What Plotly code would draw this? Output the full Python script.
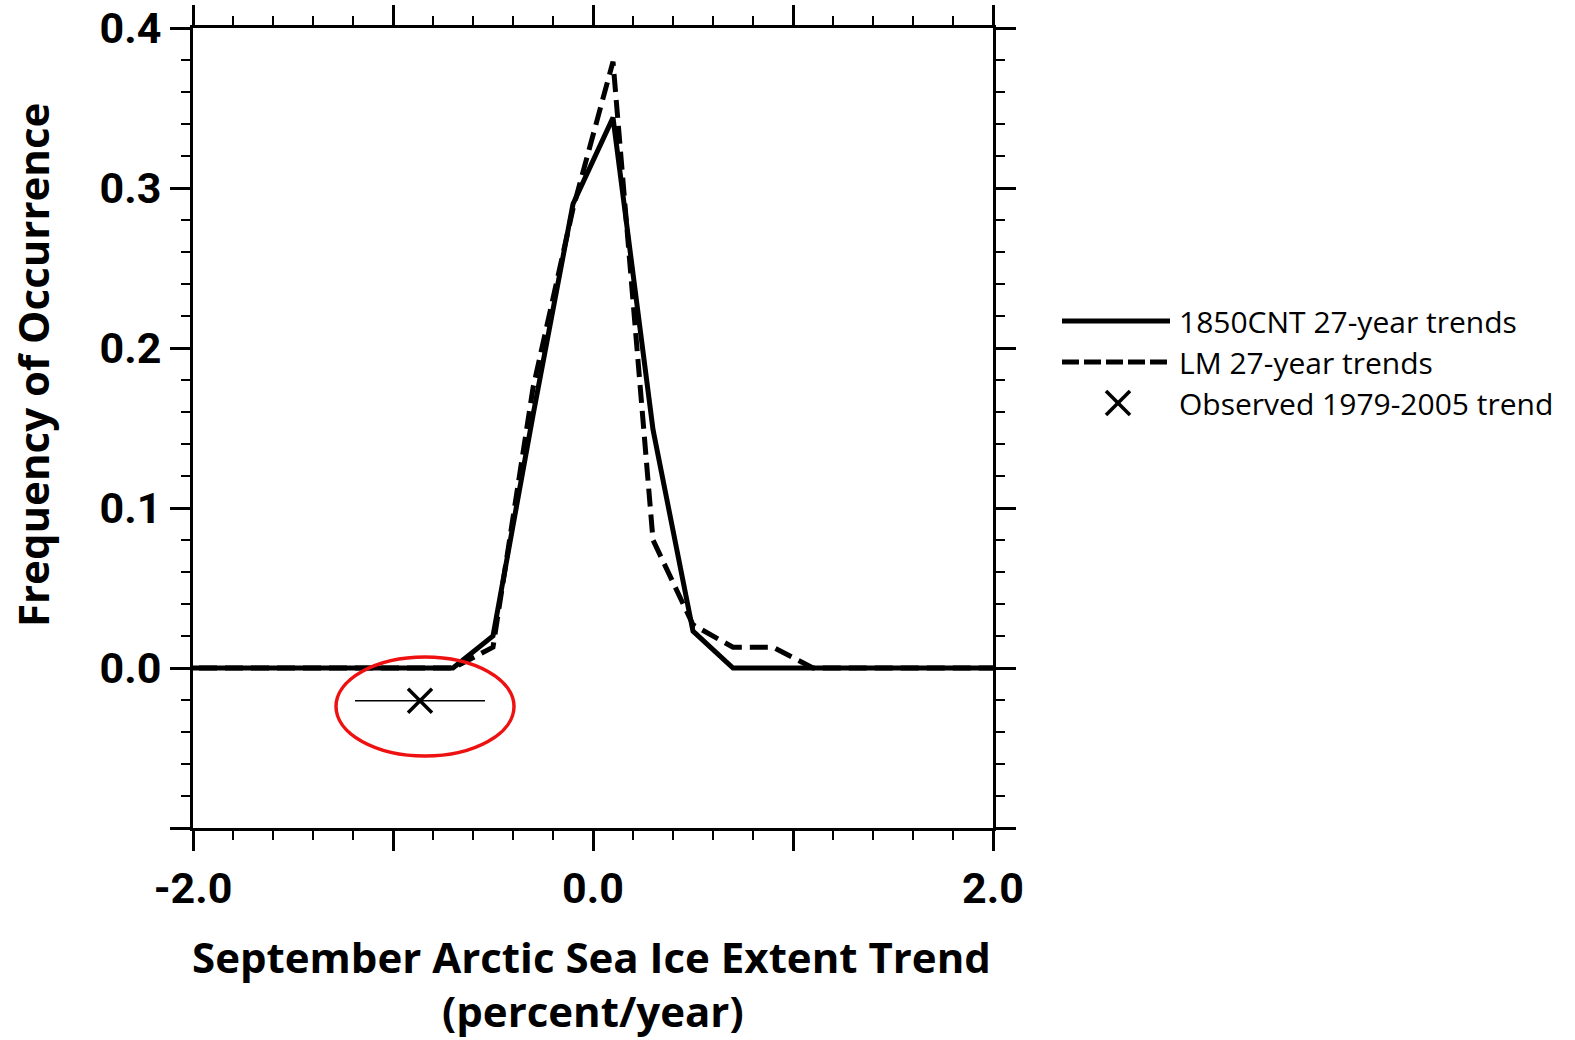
import plotly.graph_objects as go

# ---- data ----
trend_bins = [-2.1, -1.9, -1.7, -1.5, -1.3, -1.1, -0.9, -0.7, -0.5, -0.3, -0.1,
              0.1, 0.3, 0.5, 0.7, 0.9, 1.1, 1.3, 1.5, 1.7, 1.9, 2.1]
cnt_freq = [0, 0, 0, 0, 0, 0, 0, 0, 0.020, 0.158, 0.290,
            0.344, 0.149, 0.023, 0, 0, 0, 0, 0, 0, 0, 0]
lm_freq = [0, 0, 0, 0, 0, 0, 0, 0, 0.013, 0.175, 0.287,
           0.379, 0.080, 0.027, 0.013, 0.013, 0, 0, 0, 0, 0, 0]
obs_trend = [-0.865]
obs_y = [-0.0205]
obs_err = [0.325]

x_tickvals = [-2, -1, 0, 1, 2]
x_ticktext = ["-2.0", "", "0.0", "", "2.0"]
y_tickvals = [-0.1, 0.0, 0.1, 0.2, 0.3, 0.4]
y_ticktext = ["", "0.0", "0.1", "0.2", "0.3", "0.4"]

legend_names = ["1850CNT 27-year trends", "LM 27-year trends", "Observed 1979-2005 trend"]

FONT = "Open Sans"
TICK_FONT = "Roboto"

fig = go.Figure()
fig.add_trace(go.Scatter(x=trend_bins, y=lm_freq, mode="lines",
                         line=dict(color="black", width=5, dash="18px,8px"),
                         name=legend_names[1], showlegend=False))
fig.add_trace(go.Scatter(x=trend_bins, y=cnt_freq, mode="lines",
                         line=dict(color="black", width=5),
                         name=legend_names[0], showlegend=False))
fig.add_trace(go.Scatter(x=obs_trend, y=obs_y, mode="markers",
                         marker=dict(symbol="x-thin", size=24, color="black",
                                     line=dict(color="black", width=3.5)),
                         error_x=dict(type="data", array=obs_err, color="black",
                                      thickness=1.5, width=0),
                         name=legend_names[2], showlegend=False))

# red highlight ellipse around the observed trend
fig.add_shape(type="circle", xref="x", yref="y", x0=-1.285, x1=-0.395,
              y0=-0.055, y1=0.0069, line=dict(color="#ee1111", width=3.5))

# ---- manual legend (paper coordinates) ----
def px2paper_x(px):
    return (px - 193) / 800.0

def py2paper_y(py):
    return (828 - py) / 800.0

rows = [321, 362, 403]
fig.add_shape(type="line", xref="paper", yref="paper",
              x0=px2paper_x(1062), x1=px2paper_x(1170),
              y0=py2paper_y(rows[0]), y1=py2paper_y(rows[0]),
              line=dict(color="black", width=5))
fig.add_shape(type="line", xref="paper", yref="paper",
              x0=px2paper_x(1062), x1=px2paper_x(1170),
              y0=py2paper_y(rows[1]), y1=py2paper_y(rows[1]),
              line=dict(color="black", width=5, dash="17px,5px"))
s = 12
fig.add_shape(type="line", xref="paper", yref="paper",
              x0=px2paper_x(1118 - s), x1=px2paper_x(1118 + s),
              y0=py2paper_y(rows[2] - s), y1=py2paper_y(rows[2] + s),
              line=dict(color="black", width=3.5))
fig.add_shape(type="line", xref="paper", yref="paper",
              x0=px2paper_x(1118 - s), x1=px2paper_x(1118 + s),
              y0=py2paper_y(rows[2] + s), y1=py2paper_y(rows[2] - s),
              line=dict(color="black", width=3.5))
for name, r in zip(legend_names, rows):
    fig.add_annotation(text=name, xref="paper", yref="paper",
                       x=px2paper_x(1177), y=py2paper_y(r),
                       xanchor="left", yanchor="middle", showarrow=False,
                       font=dict(family=FONT, size=30, color="black"))

# ---- axis titles ----
TITLE_SIZE = 42
fig.add_annotation(text="<b>September Arctic Sea Ice Extent Trend</b>",
                   xref="paper", yref="paper", x=px2paper_x(591), y=py2paper_y(957),
                   xanchor="center", yanchor="middle", showarrow=False,
                   font=dict(family=FONT, size=TITLE_SIZE, color="black"))
fig.add_annotation(text="<b>(percent/year)</b>",
                   xref="paper", yref="paper", x=px2paper_x(593), y=py2paper_y(1010),
                   xanchor="center", yanchor="middle", showarrow=False,
                   font=dict(family=FONT, size=TITLE_SIZE, color="black"))
fig.add_annotation(text="<b>Frequency of Occurrence</b>",
                   xref="paper", yref="paper", x=px2paper_x(32), y=py2paper_y(365),
                   xanchor="center", yanchor="middle", showarrow=False, textangle=-90,
                   font=dict(family=FONT, size=TITLE_SIZE, color="black"))

axis_common = dict(
    showline=True, linecolor="black", linewidth=3, mirror="allticks",
    ticks="outside", ticklen=20, tickwidth=3, tickcolor="black",
    showgrid=False, zeroline=False, automargin=False,
    ticklabeloverflow="allow",
    tickfont=dict(family=TICK_FONT, size=43, color="black", weight="bold"),
)
fig.update_xaxes(range=[-2, 2], tickmode="array", tickvals=x_tickvals,
                 ticktext=x_ticktext,
                 minor=dict(dtick=0.2, tick0=0, ticks="outside", ticklen=9,
                            tickwidth=2, tickcolor="black", showgrid=False),
                 **axis_common)
fig.update_yaxes(range=[-0.1, 0.4], tickmode="array", tickvals=y_tickvals,
                 ticktext=y_ticktext,
                 minor=dict(dtick=0.02, tick0=0, ticks="outside", ticklen=9,
                            tickwidth=2, tickcolor="black", showgrid=False),
                 **axis_common)

fig.update_layout(
    width=1575, height=1040,
    margin=dict(l=193, r=582, t=28, b=212, autoexpand=False),
    plot_bgcolor="white", paper_bgcolor="white",
    showlegend=False,
)

fig.write_html("out.html")
